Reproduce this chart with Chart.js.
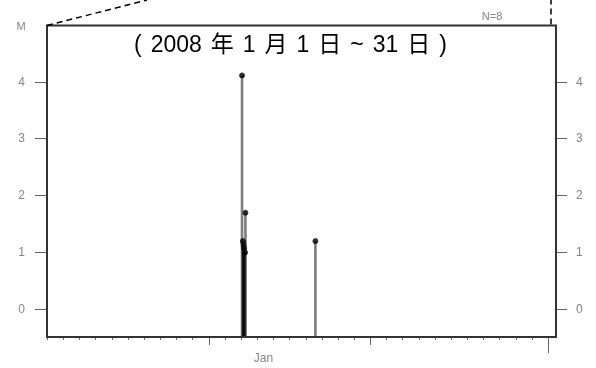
<!DOCTYPE html>
<html>
<head>
<meta charset="utf-8">
<script src="https://cdn.jsdelivr.net/npm/chart.js@4"></script>
<style>
    body { margin: 0; background: #fff; }
    #wrap { width: 596px; height: 368px; position: relative; }
</style>
</head>
<body>
<div id="wrap"><canvas id="myChart"></canvas></div>
<script>
'use strict'
// days counted from Jan 1 00:00, 2008
var days = [12.07, 12.12, 12.15, 12.17, 12.2, 12.26, 12.28, 16.61];
var values = [4.12, 1.2, 1.17, 1.12, 1.07, 1.0, 1.7, 1.2];
var yTicks = [0, 1, 2, 3, 4];
var titleText = '( 2008 年 1 月 1 日 ~ 31 日 )';
var monthLabel = 'Jan';
var yMin = -0.49;
var yMax = 5.0;
var xMin = 0;
var xMax = 31.5;

var stems = [];
var dots = [];
for (let i = 0; i < days.length; i++) {
    stems.push({ x: days[i], y: [yMin, values[i]] });
    dots.push({ x: days[i], y: values[i] });
}

var gray = '#858585';
var tickFont = { family: "'Liberation Sans', Arial, sans-serif", size: 12 };

function fixTicks(scale) {
    scale.ticks = yTicks.map(function (v) { return { value: v }; });
}

// box, x ticks, dashed lines and texts
var extras = {
    id: 'extras',
    afterDraw: function (chart) {
        var c = chart.ctx;
        var a = chart.chartArea;
        var xs = chart.scales.x;
        c.save();

        // bottom ticks, every day, longer at 11th and 21st, longest at month end
        c.strokeStyle = '#666';
        c.lineWidth = 1;
        for (let d = 0; d <= 31; d++) {
            var px = Math.round(xs.getPixelForValue(d)) + 0.5;
            var len = 3;
            if (d == 10 || d == 20) len = 8;
            if (d == 31) len = 16;
            c.beginPath();
            c.moveTo(px, a.bottom);
            c.lineTo(px, a.bottom + len);
            c.stroke();
        }

        // frame
        c.strokeStyle = '#333';
        c.lineWidth = 2;
        c.strokeRect(a.left, a.top, a.right - a.left, a.bottom - a.top);

        // dashed zoom lines
        c.strokeStyle = '#000';
        c.lineWidth = 1.5;
        c.setLineDash([6, 4]);
        c.beginPath();
        c.moveTo(a.left, a.top);
        c.lineTo(a.left + 100, 0);
        c.stroke();
        c.beginPath();
        c.moveTo(551, a.top - 1);
        c.lineTo(551, 0);
        c.stroke();
        c.setLineDash([]);

        // small gray texts
        c.fillStyle = gray;
        c.font = "11px 'Liberation Sans', Arial, sans-serif";
        c.textAlign = 'center';
        c.textBaseline = 'middle';
        c.fillText('M', 21, 27);
        c.fillText('N=8', 492, 17);
        c.font = "12px 'Liberation Sans', Arial, sans-serif";
        c.fillText(monthLabel, xs.getPixelForValue(13.4), 359);

        // title, pieces spread so it spans the same width as in the picture
        c.fillStyle = '#000';
        c.font = "23px 'Liberation Sans', 'Noto Sans CJK JP', sans-serif";
        c.textAlign = 'left';
        c.textBaseline = 'alphabetic';
        var parts = titleText.split(' ');
        var total = 0;
        for (let i = 0; i < parts.length; i++) total += c.measureText(parts[i]).width;
        var gap = (313 - total) / (parts.length - 1);
        var tx = 134;
        for (let i = 0; i < parts.length; i++) {
            c.fillText(parts[i], tx, 52);
            tx += c.measureText(parts[i]).width + gap;
        }
        c.restore();
    }
};

var ctx = document.getElementById('myChart').getContext('2d');

var chart = new Chart(ctx, {
    type: 'bar',
    data: {
        datasets: [{
            type: 'bar',
            data: stems,
            backgroundColor: 'rgba(0,0,0,0.5)',
            barThickness: 2,
            xAxisID: 'x',
            yAxisID: 'y'
        }, {
            type: 'scatter',
            data: dots,
            backgroundColor: '#333',
            borderColor: '#333',
            pointRadius: 2.5,
            xAxisID: 'x',
            yAxisID: 'y'
        }]
    },
    options: {
        responsive: true,
        maintainAspectRatio: false,
        animation: false,
        layout: { padding: { top: 25.5, left: 0, right: 0, bottom: 0 } },
        plugins: { legend: { display: false }, tooltip: { enabled: false } },
        scales: {
            x: {
                type: 'linear',
                min: xMin,
                max: xMax,
                offset: false,
                grid: { display: false },
                border: { display: false },
                ticks: { display: false },
                afterFit: function (s) { s.height = 31; }
            },
            y: {
                position: 'left',
                min: yMin,
                max: yMax,
                afterBuildTicks: fixTicks,
                afterFit: function (s) { s.width = 47; },
                grid: { drawOnChartArea: false, tickLength: 12, tickColor: '#666', lineWidth: 1 },
                border: { display: false },
                ticks: { color: gray, font: tickFont, padding: 10 }
            },
            y2: {
                position: 'right',
                min: yMin,
                max: yMax,
                afterBuildTicks: fixTicks,
                afterFit: function (s) { s.width = 40; },
                grid: { drawOnChartArea: false, tickLength: 11, tickColor: '#666', lineWidth: 1 },
                border: { display: false },
                ticks: { color: gray, font: tickFont, padding: 9 }
            }
        }
    },
    plugins: [extras]
});
</script>
</body>
</html>
